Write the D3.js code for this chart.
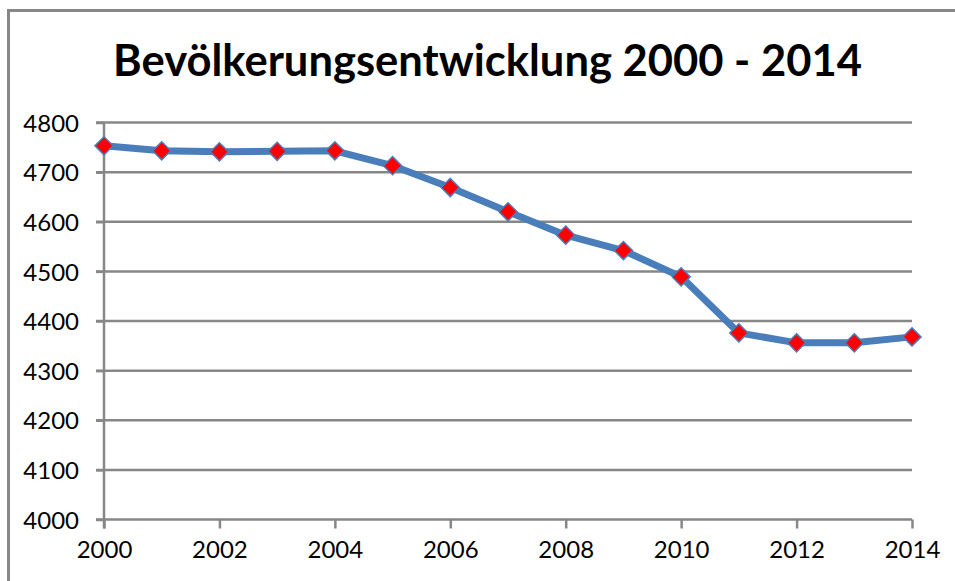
<!DOCTYPE html>
<html>
<head>
<meta charset="utf-8">
<script src="https://cdn.jsdelivr.net/npm/d3@7"></script>
<style>
  body { margin: 0; background: #fff; }
  svg { display: block; }
  text { font-family: Lato, "Liberation Sans", sans-serif; fill: #000; }
</style>
</head>
<body>
<div id="chart"></div>
<script>
// chart data
var years = [2000, 2001, 2002, 2003, 2004, 2005, 2006, 2007, 2008, 2009, 2010, 2011, 2012, 2013, 2014];
var population = [4753, 4743, 4741, 4742, 4743, 4713, 4669, 4620, 4573, 4542, 4489, 4376, 4356, 4356, 4368];
var yTicks = [4000, 4100, 4200, 4300, 4400, 4500, 4600, 4700, 4800];
var xTicks = [2000, 2002, 2004, 2006, 2008, 2010, 2012, 2014];
var title = "Bevölkerungsentwicklung 2000 - 2014";

// screen size
var svgWidth = 955;
var svgHeight = 581;

// plot area
var margin = { top: 122.5, right: 43, bottom: 61.5, left: 104 };
var width = svgWidth - margin.left - margin.right;
var height = svgHeight - margin.top - margin.bottom;

var gray = "#878787";
var blue = "#4a7ebb";

var svg = d3.select("#chart")
  .append("svg")
  .attr("width", svgWidth)
  .attr("height", svgHeight);

svg.append("rect")
  .attr("width", svgWidth)
  .attr("height", svgHeight)
  .attr("fill", "#fff");

// outer chart border (only left and top visible)
svg.append("path")
  .attr("d", "M8.5,581 V10.5 H955")
  .attr("fill", "none")
  .attr("stroke", gray)
  .attr("stroke-width", 3);

// title, fitted to the width of the original
var titleText = svg.append("text")
  .attr("x", 487.5)
  .attr("y", 76)
  .attr("text-anchor", "middle")
  .attr("font-weight", "bold")
  .attr("font-size", 44)
  .text(title);
var tw = titleText.node().getComputedTextLength();
titleText.attr("font-size", 44 * 749 / tw);

var chartGroup = svg.append("g")
  .attr("transform", `translate(${margin.left}, ${margin.top})`);

var xScale = d3.scaleLinear()
  .domain([2000, 2014])
  .range([0, width]);

var yScale = d3.scaleLinear()
  .domain([4000, 4800])
  .range([height, 0]);

// horizontal gridlines
chartGroup.append("g")
  .selectAll("line")
  .data(yTicks)
  .enter()
  .append("line")
  .attr("x1", -8)
  .attr("x2", width)
  .attr("y1", d => yScale(d))
  .attr("y2", d => yScale(d))
  .attr("stroke", gray)
  .attr("stroke-width", 2.5);

// y axis
var leftAxis = d3.axisLeft(yScale)
  .tickValues(yTicks)
  .tickSize(8)
  .tickPadding(17)
  .tickFormat(d3.format("d"));

var yAxis = chartGroup.append("g").call(leftAxis);
yAxis.select(".domain").remove();
yAxis.selectAll("line").attr("stroke", gray).attr("stroke-width", 2.5);
yAxis.selectAll("text")
  .attr("font-size", 24)
  .attr("dy", "0.36em")
  .style("font-family", "Lato, sans-serif");

// x axis
var bottomAxis = d3.axisBottom(xScale)
  .tickValues(xTicks)
  .tickSize(9)
  .tickPadding(12)
  .tickFormat(d3.format("d"));

var xAxis = chartGroup.append("g")
  .attr("transform", `translate(0, ${height})`)
  .call(bottomAxis);
xAxis.select(".domain").remove();
xAxis.selectAll("line").attr("stroke", gray).attr("stroke-width", 2.5);
xAxis.selectAll("text")
  .attr("font-size", 24)
  .style("font-family", "Lato, sans-serif");

// vertical axis line
chartGroup.append("line")
  .attr("x1", 0)
  .attr("x2", 0)
  .attr("y1", 0)
  .attr("y2", height + 9)
  .attr("stroke", gray)
  .attr("stroke-width", 2.5);

// data line
var line = d3.line()
  .x((d, i) => xScale(years[i]))
  .y(d => yScale(d));

chartGroup.append("path")
  .datum(population)
  .attr("d", line)
  .attr("fill", "none")
  .attr("stroke", blue)
  .attr("stroke-width", 7)
  .attr("stroke-linejoin", "round");

// diamond markers
var diamond = d3.symbol().type(d3.symbolDiamond2).size(210);

chartGroup.selectAll(".marker")
  .data(population)
  .enter()
  .append("path")
  .attr("class", "marker")
  .attr("d", diamond)
  .attr("transform", (d, i) => `translate(${xScale(years[i])}, ${yScale(d)})`)
  .attr("fill", "#ff0000")
  .attr("stroke", blue)
  .attr("stroke-width", 1.5);
</script>
</body>
</html>
